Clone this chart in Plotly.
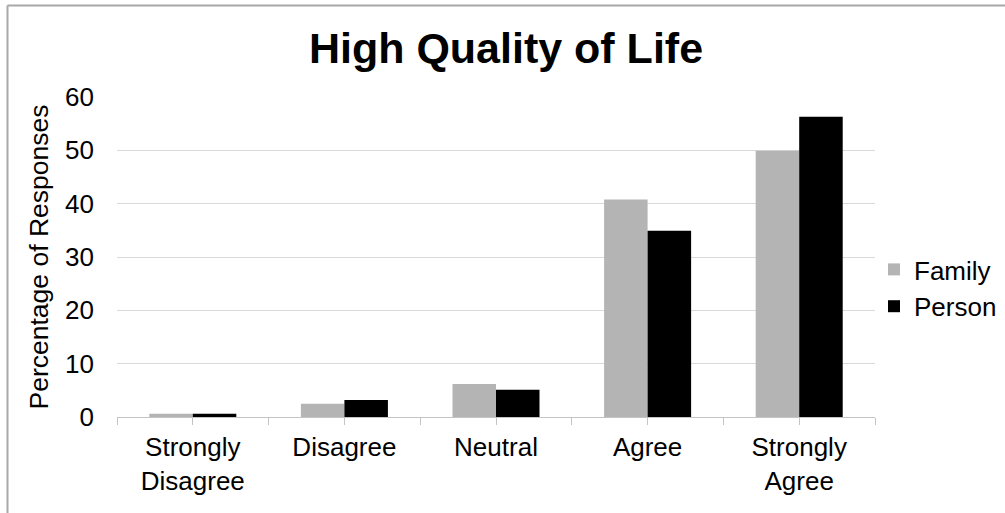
import plotly.graph_objects as go

# Survey results: share of responses per agreement level
categories = ["Strongly<br>Disagree", "Disagree", "Neutral", "Agree", "Strongly<br>Agree"]
family = [0.6, 2.5, 6.2, 40.8, 49.9]
person = [0.6, 3.2, 5.1, 34.9, 56.3]
y_ticks = [0, 10, 20, 30, 40, 50, 60]

FONT = "Liberation Sans, Arial, sans-serif"
positions = list(range(len(categories)))
boundaries = [p - 0.5 for p in positions] + [positions[-1] + 0.5]

# plot area in pixels (for the outer frame decoration)
W, H = 1005, 513
L, R, T, B = 117, 130, 97, 96
pw, ph = W - L - R, H - T - B

fig = go.Figure()
fig.add_trace(go.Bar(name="Family", x=positions, y=family,
                     marker=dict(color="#b4b4b4", line=dict(width=0))))
fig.add_trace(go.Bar(name="Person", x=positions, y=person,
                     marker=dict(color="#000000", line=dict(width=0))))

frame = dict(color="#a8a8a8", width=2)
fig.update_layout(
    width=W, height=H,
    margin=dict(l=L, r=R, t=T, b=B, autoexpand=False),
    paper_bgcolor="white", plot_bgcolor="white",
    font=dict(family=FONT, size=26, color="#000000"),
    barmode="group", bargap=0.426, bargroupgap=0,
    title=dict(text="<b>High Quality of Life</b>",
               font=dict(family=FONT, size=43, color="#000000"),
               x=506 / W, xanchor="center", xref="container",
               y=1 - 48 / H, yanchor="middle", yref="container"),
    xaxis=dict(
        range=[-0.5, len(categories) - 0.5],
        tickmode="array", tickvals=positions, ticktext=categories,
        ticks="outside", ticklen=7, tickcolor="#c4c4c4", tickwidth=1,
        minor=dict(tickmode="array", tickvals=boundaries, ticks="outside",
                   ticklen=7, tickcolor="#c4c4c4", tickwidth=1, showgrid=False),
        showline=True, linecolor="#c4c4c4", linewidth=1,
        showgrid=False, zeroline=False,
        tickfont=dict(family=FONT, size=26), ticklabelstandoff=0,
    ),
    xaxis2=dict(
        overlaying="x", anchor="y", side="bottom",
        range=[-0.5, len(categories) - 0.5],
        tickmode="array", tickvals=boundaries,
        ticks="inside", ticklen=8, tickcolor="#c4c4c4", tickwidth=1,
        showticklabels=False, showgrid=False, zeroline=False, showline=False,
    ),
    yaxis=dict(
        range=[0, 60], tickmode="array", tickvals=y_ticks,
        showgrid=True, gridcolor="#d9d9d9", gridwidth=1,
        zeroline=False, showline=False, ticks="",
        tickfont=dict(family=FONT, size=26), ticklabelstandoff=22,
        title=dict(text="Percentage of Responses",
                   font=dict(family=FONT, size=26.5), standoff=8),
    ),
    legend=dict(x=(874 - L) / pw, xanchor="left",
                y=(H - B - 288) / ph, yanchor="middle",
                font=dict(family=FONT, size=26), bgcolor="rgba(0,0,0,0)",
                tracegroupgap=0, itemclick=False),
    showlegend=True,
    shapes=[
        dict(type="line", xref="paper", yref="paper",
             x0=(7.5 - L) / pw, x1=(W - L) / pw,
             y0=(H - B - 5.5) / ph, y1=(H - B - 5.5) / ph, line=frame),
        dict(type="line", xref="paper", yref="paper",
             x0=(7.5 - L) / pw, x1=(7.5 - L) / pw,
             y0=(H - B - 5.5) / ph, y1=-B / ph, line=frame),
    ],
)

fig.write_html("out.html")
